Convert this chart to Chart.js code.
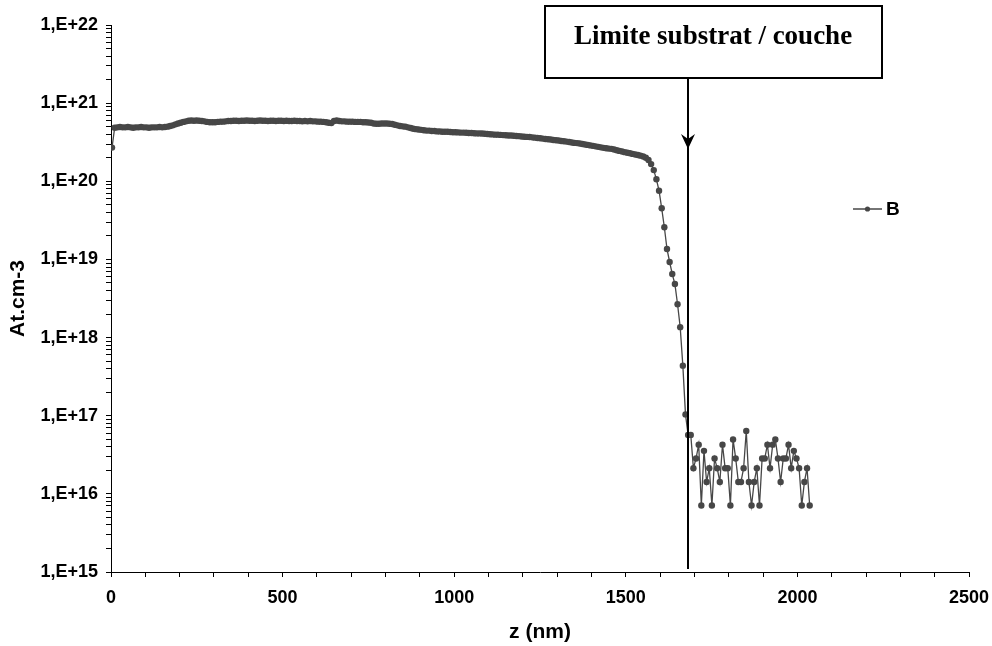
<!DOCTYPE html>
<html>
<head>
<meta charset="utf-8">
<title>Profil B</title>
<script src="https://cdn.jsdelivr.net/npm/chart.js@4"></script>
<style>
  html, body { margin: 0; padding: 0; background: #fff; }
  #wrap { width: 992px; height: 646px; position: relative; }
</style>
</head>
<body>
<div id="wrap"><canvas id="profileChart"></canvas></div>
<script>
// Depth (nm)
const depth = [
  3, 10.7, 18.4, 26.1, 33.8, 41.5, 49.2, 56.9, 64.6, 72.3,
  80, 87.7, 95.4, 103.1, 110.8, 118.5, 126.2, 133.9, 141.6, 149.3,
  157, 164.7, 172.4, 180.1, 187.8, 195.5, 203.2, 210.9, 218.6, 226.3,
  234, 241.7, 249.4, 257.1, 264.8, 272.5, 280.2, 287.9, 295.6, 303.3,
  311, 318.7, 326.4, 334.1, 341.8, 349.5, 357.2, 364.9, 372.6, 380.3,
  388, 395.7, 403.4, 411.1, 418.8, 426.5, 434.2, 441.9, 449.6, 457.3,
  465, 472.7, 480.4, 488.1, 495.8, 503.5, 511.2, 518.9, 526.6, 534.3,
  542, 549.7, 557.4, 565.1, 572.8, 580.5, 588.2, 595.9, 603.6, 611.3,
  619, 626.7, 634.4, 642.1, 649.8, 657.5, 665.2, 672.9, 680.6, 688.3,
  696, 703.7, 711.4, 719.1, 726.8, 734.5, 742.2, 749.9, 757.6, 765.3,
  773, 780.7, 788.4, 796.1, 803.8, 811.5, 819.2, 826.9, 834.6, 842.3,
  850, 857.7, 865.4, 873.1, 880.8, 888.5, 896.2, 903.9, 911.6, 919.3,
  927, 934.7, 942.4, 950.1, 957.8, 965.5, 973.2, 980.9, 988.6, 996.3,
  1004, 1011.7, 1019.4, 1027.1, 1034.8, 1042.5, 1050.2, 1057.9, 1065.6, 1073.3,
  1081, 1088.7, 1096.4, 1104.1, 1111.8, 1119.5, 1127.2, 1134.9, 1142.6, 1150.3,
  1158, 1165.7, 1173.4, 1181.1, 1188.8, 1196.5, 1204.2, 1211.9, 1219.6, 1227.3,
  1235, 1242.7, 1250.4, 1258.1, 1265.8, 1273.5, 1281.2, 1288.9, 1296.6, 1304.3,
  1312, 1319.7, 1327.4, 1335.1, 1342.8, 1350.5, 1358.2, 1365.9, 1373.6, 1381.3,
  1389, 1396.7, 1404.4, 1412.1, 1419.8, 1427.5, 1435.2, 1442.9, 1450.6, 1458.3,
  1466, 1473.7, 1481.4, 1489.1, 1496.8, 1504.5, 1512.2, 1519.9, 1527.6, 1535.3,
  1543, 1550.7, 1558.4, 1566.1, 1573.8, 1581.5, 1589.2, 1596.9, 1604.6, 1612.3,
  1620, 1627.7, 1635.4, 1643.1, 1650.8, 1658.5, 1666.2, 1673.9, 1681.6, 1689.3,
  1697, 1704.7, 1712.4, 1720.1, 1727.8, 1735.5, 1743.2, 1750.9, 1758.6, 1766.3,
  1774, 1781.7, 1789.4, 1797.1, 1804.8, 1812.5, 1820.2, 1827.9, 1835.6, 1843.3,
  1851, 1858.7, 1866.4, 1874.1, 1881.8, 1889.5, 1897.2, 1904.9, 1912.6, 1920.3,
  1928, 1935.7, 1943.4, 1951.1, 1958.8, 1966.5, 1974.2, 1981.9, 1989.6, 1997.3,
  2005, 2012.7, 2020.4, 2028.1, 2035.8
];

// B concentration (at.cm-3)
const boron = [
  2.7e20, 4.85e20, 4.9e20, 4.95e20, 4.9e20, 4.9e20, 4.95e20, 4.9e20, 4.85e20, 4.9e20,
  4.9e20, 4.95e20, 4.9e20, 4.9e20, 4.85e20, 4.9e20, 4.9e20, 4.9e20, 4.95e20, 4.9e20,
  4.95e20, 5.0e20, 5.1e20, 5.2e20, 5.35e20, 5.5e20, 5.6e20, 5.75e20, 5.85e20, 5.95e20,
  6.0e20, 5.95e20, 6.0e20, 5.95e20, 5.9e20, 5.85e20, 5.75e20, 5.7e20, 5.7e20, 5.7e20,
  5.75e20, 5.8e20, 5.8e20, 5.85e20, 5.9e20, 5.9e20, 5.95e20, 5.95e20, 5.9e20, 5.95e20,
  5.95e20, 6.0e20, 5.95e20, 5.95e20, 5.9e20, 5.95e20, 6.0e20, 5.95e20, 5.95e20, 5.9e20,
  5.95e20, 5.95e20, 5.9e20, 5.95e20, 5.95e20, 5.9e20, 5.95e20, 5.9e20, 5.9e20, 5.95e20,
  5.9e20, 5.9e20, 5.85e20, 5.9e20, 5.85e20, 5.9e20, 5.85e20, 5.85e20, 5.8e20, 5.8e20,
  5.75e20, 5.7e20, 5.6e20, 5.55e20, 5.9e20, 6.0e20, 5.9e20, 5.85e20, 5.85e20, 5.8e20,
  5.8e20, 5.8e20, 5.75e20, 5.75e20, 5.75e20, 5.7e20, 5.7e20, 5.65e20, 5.6e20, 5.5e20,
  5.45e20, 5.45e20, 5.5e20, 5.5e20, 5.5e20, 5.45e20, 5.4e20, 5.3e20, 5.2e20, 5.1e20,
  5.05e20, 5.0e20, 4.9e20, 4.8e20, 4.7e20, 4.65e20, 4.6e20, 4.55e20, 4.5e20, 4.45e20,
  4.45e20, 4.4e20, 4.4e20, 4.35e20, 4.35e20, 4.3e20, 4.3e20, 4.3e20, 4.28e20, 4.25e20,
  4.25e20, 4.22e20, 4.2e20, 4.2e20, 4.18e20, 4.15e20, 4.15e20, 4.12e20, 4.1e20, 4.1e20,
  4.08e20, 4.05e20, 4.02e20, 4.0e20, 3.98e20, 3.95e20, 3.95e20, 3.92e20, 3.9e20, 3.88e20,
  3.86e20, 3.85e20, 3.83e20, 3.8e20, 3.78e20, 3.75e20, 3.72e20, 3.7e20, 3.68e20, 3.65e20,
  3.62e20, 3.58e20, 3.55e20, 3.52e20, 3.48e20, 3.45e20, 3.42e20, 3.38e20, 3.35e20, 3.32e20,
  3.28e20, 3.25e20, 3.22e20, 3.18e20, 3.14e20, 3.1e20, 3.08e20, 3.05e20, 3.0e20, 2.96e20,
  2.92e20, 2.88e20, 2.84e20, 2.8e20, 2.76e20, 2.72e20, 2.68e20, 2.65e20, 2.62e20, 2.6e20,
  2.55e20, 2.5e20, 2.45e20, 2.4e20, 2.36e20, 2.32e20, 2.28e20, 2.24e20, 2.2e20, 2.17e20,
  2.13e20, 2.08e20, 2.0e20, 1.87e20, 1.66e20, 1.39e20, 1.06e20, 7.57e19, 4.51e19, 2.58e19,
  1.36e19, 9.27e18, 6.5e18, 4.84e18, 2.67e18, 1.36e18, 4.37e17, 1.04e17, 5.68e16, 5.68e16,
  2.13e16, 2.84e16, 4.26e16, 7.1e15, 3.55e16, 1.42e16, 2.13e16, 7.1e15, 2.84e16, 2.13e16,
  1.42e16, 4.26e16, 2.13e16, 2.13e16, 7.1e15, 4.97e16, 2.84e16, 1.42e16, 1.42e16, 2.13e16,
  6.39e16, 1.42e16, 7.1e15, 1.42e16, 2.13e16, 7.1e15, 2.84e16, 2.84e16, 4.26e16, 2.13e16,
  4.26e16, 4.97e16, 2.84e16, 1.42e16, 2.84e16, 2.84e16, 4.26e16, 2.13e16, 3.55e16, 2.84e16,
  2.13e16, 7.1e15, 1.42e16, 2.13e16, 7.1e15
];

// Axis ticks and labels
const yExponents = [15, 16, 17, 18, 19, 20, 21, 22];
const yTickLabels = ['1,E+15', '1,E+16', '1,E+17', '1,E+18', '1,E+19', '1,E+20', '1,E+21', '1,E+22'];
const xTickValues = [0, 500, 1000, 1500, 2000, 2500];
const xTickLabels = ['0', '500', '1000', '1500', '2000', '2500'];

const boundaryDepth = 1682;
const boundaryLabel = 'Limite substrat / couche';
const seriesName = 'B';

const lineColor = '#474747';
Chart.defaults.font.family = 'Arial, "Liberation Sans", sans-serif';
Chart.defaults.color = '#000';

// minor ticks 1..9 x 10^n on the log axis
const yTicks = [];
yExponents.forEach((e, i) => {
    if (i === yExponents.length - 1) {
        yTicks.push(Math.pow(10, e));
        return;
    }
    for (let m = 1; m <= 9; m++) yTicks.push(m * Math.pow(10, e));
});

// Boundary arrow, label box and legend
const boundaryPlugin = {
    id: 'boundary',
    afterDraw(chart) {
        const { ctx, chartArea, scales } = chart;
        const x = Math.round(scales.x.getPixelForValue(boundaryDepth));
        ctx.save();

        // vertical line
        ctx.strokeStyle = '#000';
        ctx.lineWidth = 2;
        ctx.beginPath();
        ctx.moveTo(x, 79);
        ctx.lineTo(x, chartArea.bottom - 3);
        ctx.stroke();

        // arrow head
        ctx.fillStyle = '#000';
        ctx.beginPath();
        ctx.moveTo(x, 149);
        ctx.lineTo(x - 7, 134);
        ctx.lineTo(x, 139);
        ctx.lineTo(x + 7, 134);
        ctx.closePath();
        ctx.fill();

        // label box
        ctx.fillStyle = '#fff';
        ctx.fillRect(545, 6, 337, 72);
        ctx.lineWidth = 2;
        ctx.strokeRect(545, 6, 337, 72);
        ctx.fillStyle = '#000';
        ctx.font = 'bold 27px "Liberation Serif", "Times New Roman", serif';
        ctx.textAlign = 'center';
        ctx.textBaseline = 'middle';
        ctx.fillText(boundaryLabel, 713, 37);

        // legend
        ctx.strokeStyle = lineColor;
        ctx.lineWidth = 1.5;
        ctx.beginPath();
        ctx.moveTo(853, 209);
        ctx.lineTo(882, 209);
        ctx.stroke();
        ctx.fillStyle = lineColor;
        ctx.beginPath();
        ctx.arc(867.5, 209, 2.6, 0, Math.PI * 2);
        ctx.fill();
        ctx.fillStyle = '#000';
        ctx.font = 'bold 19px Arial, "Liberation Sans", sans-serif';
        ctx.textAlign = 'left';
        ctx.fillText(seriesName, 886, 210);

        ctx.restore();
    }
};

const ctx = document.getElementById('profileChart').getContext('2d');

const profileChart = new Chart(ctx, {
    type: 'line',
    data: {
        datasets: [
            {
                label: seriesName,
                data: depth.map((z, i) => ({ x: z, y: boron[i] })),
                borderColor: lineColor,
                borderWidth: 1.3,
                backgroundColor: lineColor,
                pointBackgroundColor: lineColor,
                pointBorderWidth: 0,
                pointRadius: 3.2,
                pointHoverRadius: 3.2,
                tension: 0,
                fill: false
            }
        ]
    },
    options: {
        responsive: true,
        maintainAspectRatio: false,
        animation: false,
        events: [],
        layout: {
            padding: { top: 25, right: 23, left: 0, bottom: 0 }
        },
        scales: {
            x: {
                type: 'linear',
                min: 0,
                max: 2500,
                afterFit: (scale) => {
                    scale.height = 74;
                    scale.paddingLeft = 0;
                    scale.paddingRight = 0;
                },
                border: { color: '#000', width: 1 },
                grid: {
                    drawOnChartArea: false,
                    tickLength: 5,
                    tickColor: '#000'
                },
                ticks: {
                    stepSize: 100,
                    autoSkip: false,
                    maxRotation: 0,
                    padding: 10,
                    font: { size: 18, weight: 'bold' },
                    callback: (v) => {
                        const k = xTickValues.indexOf(v);
                        return k >= 0 ? xTickLabels[k] : '';
                    }
                },
                title: {
                    display: true,
                    text: 'z (nm)',
                    font: { size: 21, weight: 'bold' },
                    padding: { top: 0, bottom: 1 }
                }
            },
            y: {
                type: 'logarithmic',
                min: 1e15,
                max: 1e22,
                afterFit: (scale) => {
                    scale.width = 111;
                    scale.paddingTop = 0;
                    scale.paddingBottom = 0;
                },
                afterBuildTicks: (scale) => {
                    scale.ticks = yTicks.map(v => ({ value: v }));
                },
                border: { color: '#000', width: 1 },
                grid: {
                    drawOnChartArea: false,
                    tickLength: 5,
                    tickColor: '#000'
                },
                ticks: {
                    autoSkip: false,
                    padding: 8,
                    font: { size: 18, weight: 'bold' },
                    callback: (v) => {
                        const e = Math.log10(v);
                        if (Math.abs(e - Math.round(e)) > 1e-9) return '';
                        const k = yExponents.indexOf(Math.round(e));
                        return k >= 0 ? yTickLabels[k] : '';
                    }
                },
                title: {
                    display: true,
                    text: 'At.cm-3',
                    font: { size: 21, weight: 'bold' },
                    padding: { top: 6, bottom: 0 }
                }
            }
        },
        plugins: {
            legend: { display: false },
            tooltip: { enabled: false }
        }
    },
    plugins: [boundaryPlugin]
});
</script>
</body>
</html>
